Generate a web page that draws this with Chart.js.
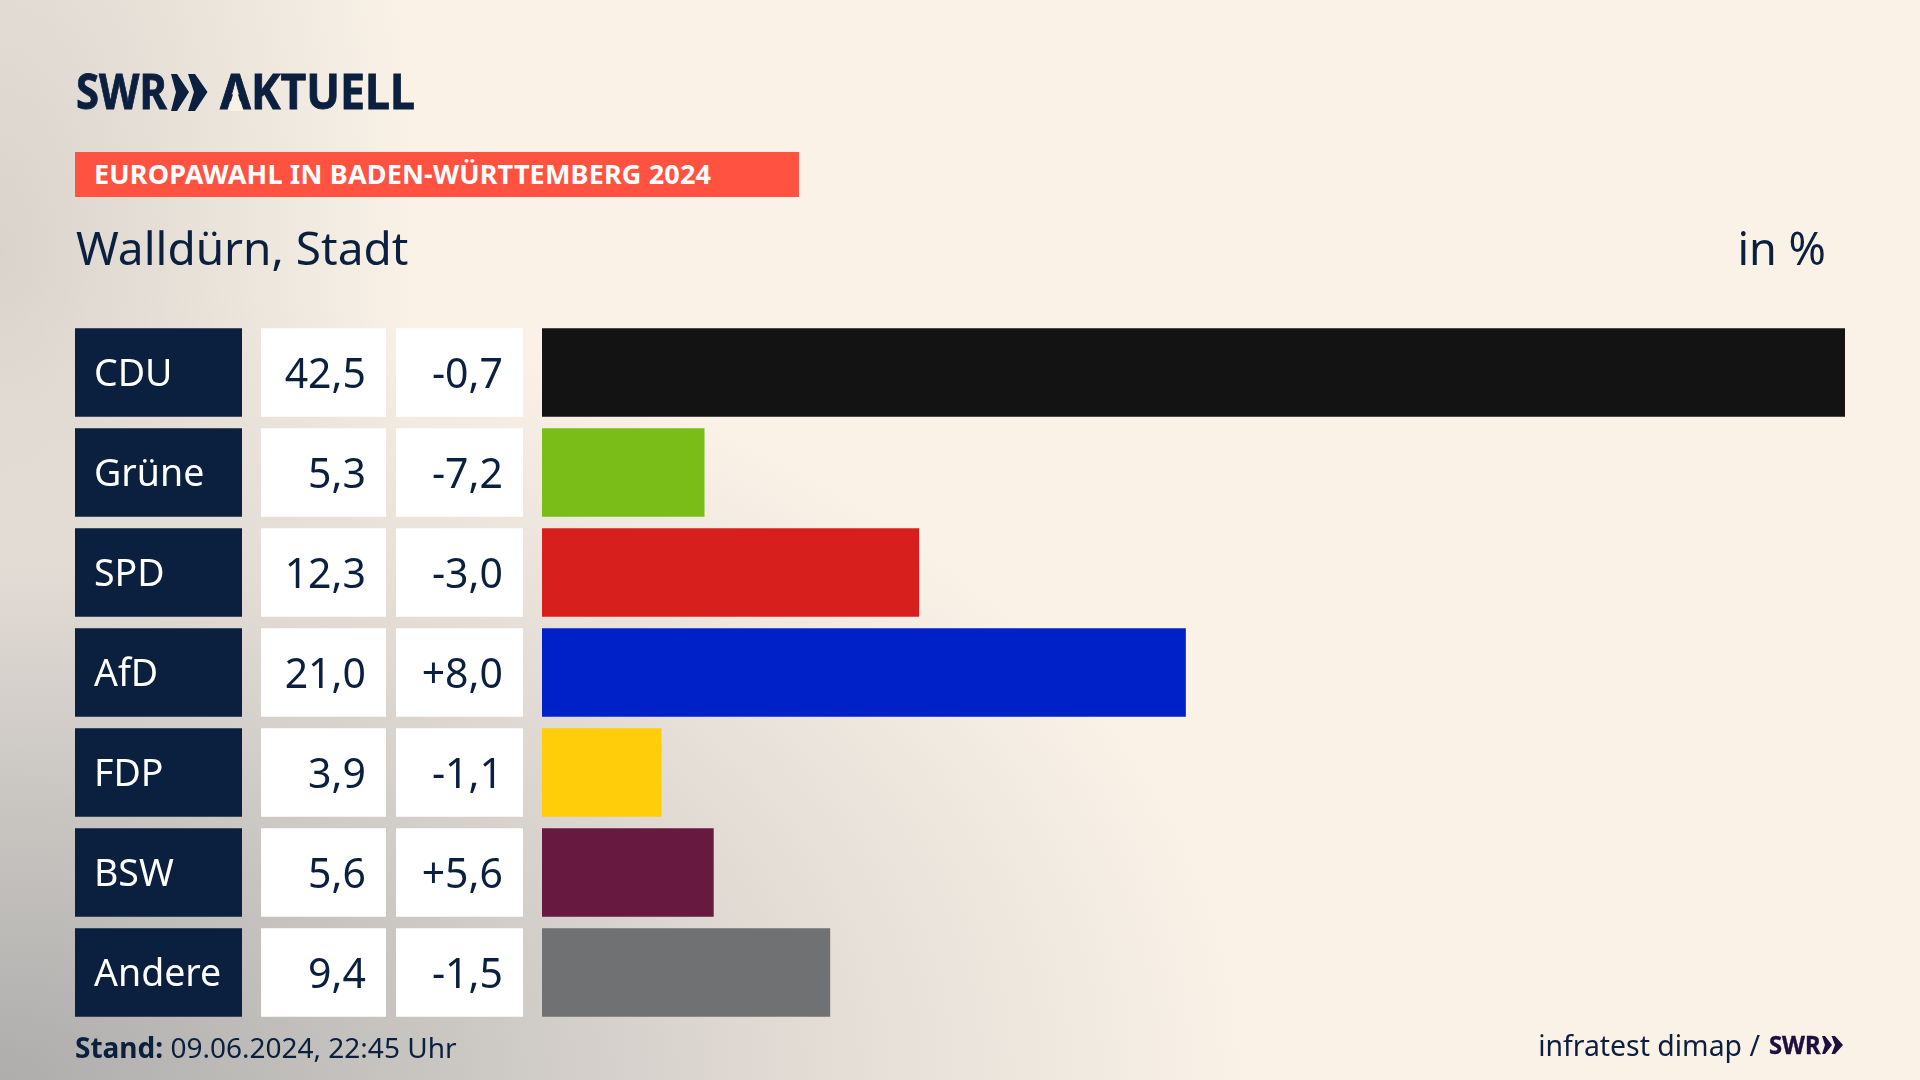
<!DOCTYPE html>
<html lang="de"><head><meta charset="utf-8">
<script src="https://cdn.jsdelivr.net/npm/chart.js@4"></script>
<style>
html,body{margin:0;padding:0;width:1920px;height:1080px;overflow:hidden}
body{position:relative;font-family:"Noto Sans",sans-serif;color:#0b1f3e;
background:
 radial-gradient(ellipse 1250px 800px at 0 1080px,#aeadac 0%,#c9c6c2 35%,#e3dcd5 65%,rgba(250,242,231,0) 100%),
 radial-gradient(ellipse 420px 900px at 0 250px,#d9d3cc 0%,rgba(250,242,231,0) 100%),
 #faf2e7}
canvas{position:absolute;left:0;top:0}
.t{position:absolute;white-space:nowrap;line-height:1}
.sq{transform-origin:0 0;font-weight:700;-webkit-text-stroke:.8px currentColor}
svg{position:absolute}
</style></head><body>
<canvas id="c" width="1920" height="1080"></canvas>
<div class="t sq" style="left:76px;top:67px;font-size:48px;transform:scaleX(.87)">SWR</div>
<svg style="left:170px;top:73px" width="40" height="40"><polygon fill="#0b1f3e" points="1,1 7,1 19,19 7,38 1,38 6,19"/><polygon fill="#0b1f3e" points="18,1 25,1 37.5,19 25,38 18,38 24,19"/></svg>
<div class="t sq" style="left:220px;top:67px;font-size:48px;transform:scaleX(.93)">AKTUELL</div>
<svg style="left:220px;top:80px" width="32" height="32"><polygon fill="#f9f1e6" points="8,31 15.5,6 23,31"/></svg>
<div style="position:absolute;left:75px;top:152px;width:724px;height:45px;background:#ff5240"></div>
<div class="t" style="left:94px;top:160px;font-weight:700;font-size:27px;color:#fff;letter-spacing:.16px">EUROPAWAHL IN BADEN-WÜRTTEMBERG 2024</div>
<div class="t" style="left:76px;top:224px;font-size:46px">Walldürn, Stadt</div>
<div class="t" style="right:94px;top:225px;font-size:45px">in %</div>
<div class="t" style="left:75px;top:1033px;font-size:28px"><b>Stand:</b> 09.06.2024, 22:45 Uhr</div>
<div class="t" style="right:160px;top:1031px;font-size:28.4px">infratest dimap /</div>
<div class="t sq" style="left:1769px;top:1031.5px;font-size:25.5px;transform:scaleX(.93);color:#1d0f3f;-webkit-text-stroke:.4px #1d0f3f">SWR</div>
<svg style="left:1821px;top:1035px" width="24" height="20"><polygon fill="#1d0f3f" points="1,1 4,1 11,10 4,19 1,19 4,10"/><polygon fill="#1d0f3f" points="10.5,1 14,1 22,10 14,19 10.5,19 14,10"/></svg>
<script>
const parties=["CDU","Grüne","SPD","AfD","FDP","BSW","Andere"];
const shares=[42.5,5.3,12.3,21.0,3.9,5.6,9.4];
const changes=[-0.7,-7.2,-3.0,8.0,-1.1,5.6,-1.5];
const barColors=["#131313","#7abd18","#d7201d","#0020c8","#ffcd0a","#67193f","#707173"];
const fmt=v=>v.toFixed(1).replace(".",",");
const fmtC=v=>(v>0?"+":"")+fmt(v);
const NAVY="#0b1f3e";
const cells={
 id:"cells",
 beforeDraw(ch){
  const c=ch.ctx,y=ch.scales.y;
  parties.forEach((p,i)=>{
   const m=y.getPixelForValue(i),h=88.5,t=m-h/2;
   c.fillStyle=NAVY;c.fillRect(75,t,167,h);
   c.fillStyle="#fff";c.fillRect(261,t,125,h);c.fillRect(396,t,127,h);
  });
 },
 afterDraw(ch){
  const c=ch.ctx,y=ch.scales.y;
  c.save();c.font='41px "Noto Sans"';c.fillStyle=NAVY;c.textAlign="right";c.textBaseline="middle";
  parties.forEach((p,i)=>{
   const m=y.getPixelForValue(i)+3.5;
   c.fillText(fmt(shares[i]),366,m);
   c.fillText(fmtC(changes[i]),503,m);
  });
  c.restore();
 }
};
new Chart(document.getElementById("c"),{
 type:"bar",
 data:{labels:parties,datasets:[{data:shares,backgroundColor:barColors,barPercentage:.885,categoryPercentage:1,borderWidth:0}]},
 options:{
  indexAxis:"y",responsive:false,animation:false,devicePixelRatio:1,
  layout:{padding:{top:322.5,bottom:57.5,right:75,left:94}},
  plugins:{legend:{display:false},title:{display:false},tooltip:{enabled:false}},
  scales:{
   x:{display:false,min:0,max:42.5},
   y:{afterFit(s){s.width=448;s.paddingTop=0;s.paddingBottom=0},grid:{display:false,drawTicks:false},border:{display:false},
      ticks:{color:"#fff",font:{family:"Noto Sans",size:37.5},crossAlign:"far",padding:8,autoSkip:false,labelOffset:3}}
  }
 },
 plugins:[cells]
});
</script>
</body></html>
